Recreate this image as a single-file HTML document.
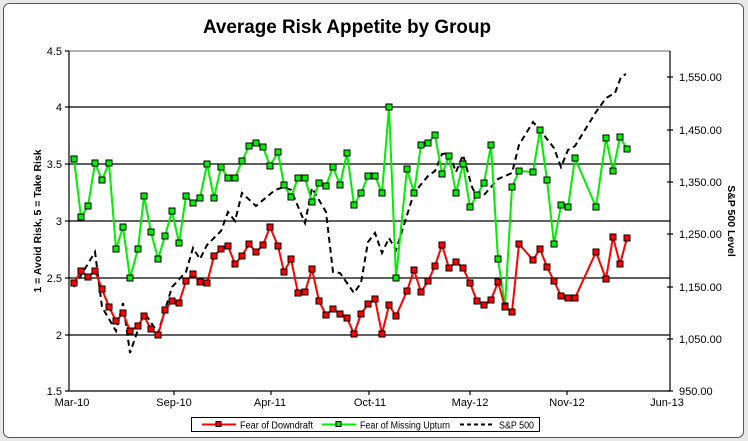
<!DOCTYPE html>
<html><head><meta charset="utf-8"><style>
html,body{margin:0;padding:0;background:#fff;}
svg{display:block;font-family:"Liberation Sans",Arial,sans-serif;}
</style></head><body>
<svg width="748" height="441" viewBox="0 0 748 441" xmlns="http://www.w3.org/2000/svg">
<rect x="0" y="0" width="748" height="441" fill="#e8e8e8"/>
<rect x="3.5" y="3.5" width="740" height="434" rx="6" fill="#fff" stroke="#555" stroke-width="1"/>
<text x="347" y="33" font-size="19" font-weight="bold" text-anchor="middle" textLength="288" lengthAdjust="spacingAndGlyphs">Average Risk Appetite by Group</text>
<g stroke="#000" stroke-width="1.2">
<line x1="69" y1="51" x2="670" y2="51" stroke="#888"/>
<line x1="69" y1="107" x2="670" y2="107"/>
<line x1="69" y1="164" x2="670" y2="164"/>
<line x1="69" y1="221" x2="670" y2="221"/>
<line x1="69" y1="278" x2="670" y2="278"/>
<line x1="69" y1="335" x2="670" y2="335"/>
<line x1="69" y1="391" x2="670" y2="391"/>
<line x1="69" y1="51" x2="69" y2="391"/>
<line x1="670" y1="51" x2="670" y2="391"/>
<line x1="65" y1="51" x2="69" y2="51"/><line x1="65" y1="107" x2="69" y2="107"/><line x1="65" y1="164" x2="69" y2="164"/><line x1="65" y1="221" x2="69" y2="221"/><line x1="65" y1="278" x2="69" y2="278"/><line x1="65" y1="335" x2="69" y2="335"/><line x1="65" y1="391" x2="69" y2="391"/>
<line x1="667" y1="77" x2="673" y2="77"/><line x1="667" y1="130" x2="673" y2="130"/><line x1="667" y1="182" x2="673" y2="182"/><line x1="667" y1="234" x2="673" y2="234"/><line x1="667" y1="287" x2="673" y2="287"/><line x1="667" y1="339" x2="673" y2="339"/><line x1="667" y1="391" x2="673" y2="391"/>
<line x1="174" y1="391" x2="174" y2="395"/><line x1="271" y1="391" x2="271" y2="395"/><line x1="369" y1="391" x2="369" y2="395"/><line x1="470" y1="391" x2="470" y2="395"/><line x1="567" y1="391" x2="567" y2="395"/>
</g>
<g font-size="11" text-anchor="end">
<text x="62" y="55">4.5</text><text x="62" y="111">4</text><text x="62" y="168">3.5</text><text x="62" y="225">3</text><text x="62" y="282">2.5</text><text x="62" y="339">2</text><text x="62" y="395">1.5</text>
</g>
<g font-size="11">
<text x="679" y="81">1,550.00</text><text x="679" y="134">1,450.00</text><text x="679" y="186">1,350.00</text><text x="679" y="238">1,250.00</text><text x="679" y="291">1,150.00</text><text x="679" y="343">1,050.00</text><text x="679" y="395">950.00</text>
</g>
<g font-size="11" text-anchor="middle">
<text x="72" y="406">Mar-10</text><text x="174" y="406">Sep-10</text><text x="270" y="406">Apr-11</text><text x="370" y="406">Oct-11</text><text x="470" y="406">May-12</text><text x="567" y="406">Nov-12</text><text x="667" y="406">Jun-13</text>
</g>
<text transform="translate(41,221) rotate(-90)" font-size="10.5" font-weight="bold" text-anchor="middle">1 = Avoid Risk, 5 = Take Risk</text>
<text transform="translate(728,221) rotate(90)" font-size="10.5" font-weight="bold" text-anchor="middle">S&amp;P 500 Level</text>

<polyline fill="none" stroke="#000" stroke-width="2" stroke-dasharray="6,4" points="74,287 95,252 102,307 116,331 123,303 130,353 144,312 158,333 172,287 186,272 193,248 200,259 207,245 221,231 228,212 235,221 242,193 256,206 275,190 284,187 291,190 305,223 312,188 326,212 333,272 340,273 354,293 361,283 368,242 375,233 382,253 389,238 396,250 414,193 428,176 435,171 442,154 449,153 456,172 463,155 472,187 477,197 484,195 498,179 512,173 519,145 533,122 540,130 554,148 561,167 568,150 575,146 596,112 606,98 615,93 621,77 626,74"/>

<polyline fill="none" stroke="#00ee00" stroke-width="2" points="74,159 81,217 88,206 95,163 102,180 109,163 116,249 123,227 130,278 138,249 144,196 151,232 158,259 165,236 172,211 179,243 186,196 193,203 200,198 207,164 214,198 221,167 228,178 235,178 242,161 249,146 256,143 263,147 270,166 278,152 284,185 291,197 298,178 305,178 312,202 319,183 326,186 333,167 340,185 347,153 354,205 361,193 368,176 375,176 382,193 389,107 396,278 407,169 414,193 421,145 428,143 435,135 442,174 449,156 456,193 463,164 470,207 477,195 484,183 491,145 498,259 505,306 512,187 519,171 533,172 540,130 547,180 554,244 561,205 568,207 575,158 596,207 606,138 613,171 620,137 627,149"/>
<polyline fill="none" stroke="#ff0000" stroke-width="2" points="74,283 81,271 88,277 95,271 102,289 109,307 116,321 123,313 130,331 138,326 144,316 151,329 158,335 165,310 172,301 179,303 186,281 193,274 200,282 207,283 214,256 221,249 228,246 235,264 242,256 249,244 256,252 263,245 270,227 278,246 284,272 291,259 298,293 305,292 312,269 319,301 326,315 333,309 340,314 347,318 354,334 361,314 368,304 375,299 382,334 389,305 396,316 407,291 414,270 421,292 428,281 435,266 442,245 449,268 456,262 463,268 470,283 477,301 484,305 491,300 498,282 505,307 512,312 519,244 533,260 540,249 547,267 554,281 561,296 568,298 575,298 596,252 606,279 613,237 620,264 627,238"/>
<g id="markers"></g>
<rect x="191.5" y="417.5" width="348" height="14" fill="#fff" stroke="#000"/>
<line x1="202" y1="424.5" x2="236" y2="424.5" stroke="#f00" stroke-width="2"/>
<rect x="216" y="421.5" width="5" height="5" fill="#f00" stroke="#000"/>
<text x="240" y="428.5" font-size="10" textLength="73" lengthAdjust="spacingAndGlyphs">Fear of Downdraft</text>
<line x1="322" y1="424.5" x2="356" y2="424.5" stroke="#0e0" stroke-width="2"/>
<rect x="336" y="421.5" width="5" height="5" fill="#0e0" stroke="#000"/>
<text x="360" y="428.5" font-size="10" textLength="90" lengthAdjust="spacingAndGlyphs">Fear of Missing Upturn</text>
<line x1="460" y1="424.5" x2="494" y2="424.5" stroke="#000" stroke-width="2" stroke-dasharray="4,3"/>
<text x="499" y="428.5" font-size="10" textLength="35" lengthAdjust="spacingAndGlyphs">S&amp;P 500</text>
</svg>
<script>
(function(){
var ns="http://www.w3.org/2000/svg",g=document.getElementById("markers");
document.querySelectorAll("polyline").forEach(function(p){
 var c=p.getAttribute("stroke"); if(c=="#000")return;
 p.getAttribute("points").trim().split(/\s+/).forEach(function(s){
  var a=s.split(","),r=document.createElementNS(ns,"rect");
  r.setAttribute("x",+a[0]-3);r.setAttribute("y",+a[1]-3);r.setAttribute("width",6);r.setAttribute("height",6);
  r.setAttribute("fill",c);r.setAttribute("stroke","#000");r.setAttribute("stroke-width","1");g.appendChild(r);
 });
});
})();
</script>
</body></html>
